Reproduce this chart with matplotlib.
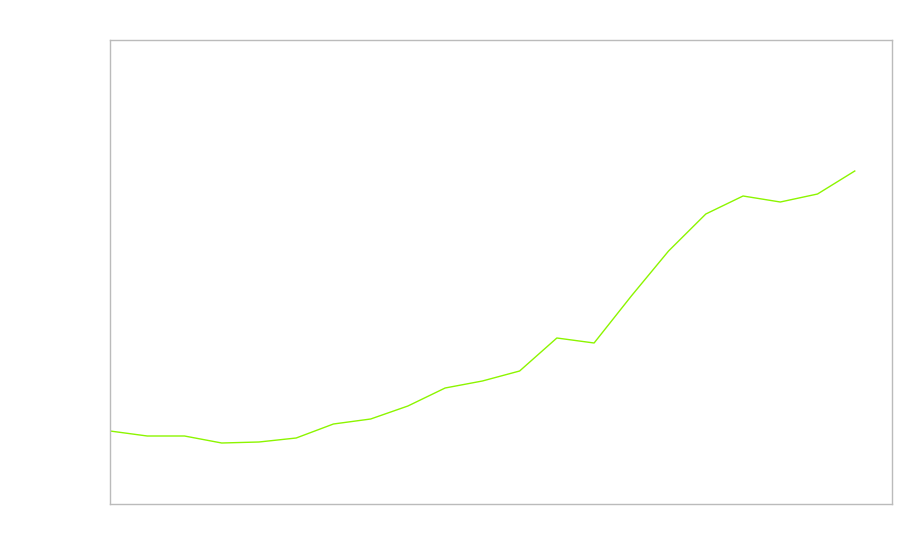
import matplotlib
matplotlib.use("Agg")
import matplotlib.pyplot as plt

x_index = list(range(21))
values = [73, 68, 68, 61, 62, 66, 80, 85, 98, 116, 123, 133, 166, 161, 208, 253, 290, 308, 302, 310, 333]

fig = plt.figure(figsize=(9, 5.6), dpi=100)
ax = fig.add_axes([110/900, 1 - 504/560, 782/900, 464/560])
ax.plot(x_index, values, color="#8cf500", linewidth=1.0)
ax.set_xlim(0, 21)
ax.set_ylim(0, 464)
ax.set_xticks([])
ax.set_yticks([])
for s in ax.spines.values():
    s.set_color("#bbbbbb")
    s.set_linewidth(1.0)
fig.savefig("out.png", dpi=100, facecolor="white")
